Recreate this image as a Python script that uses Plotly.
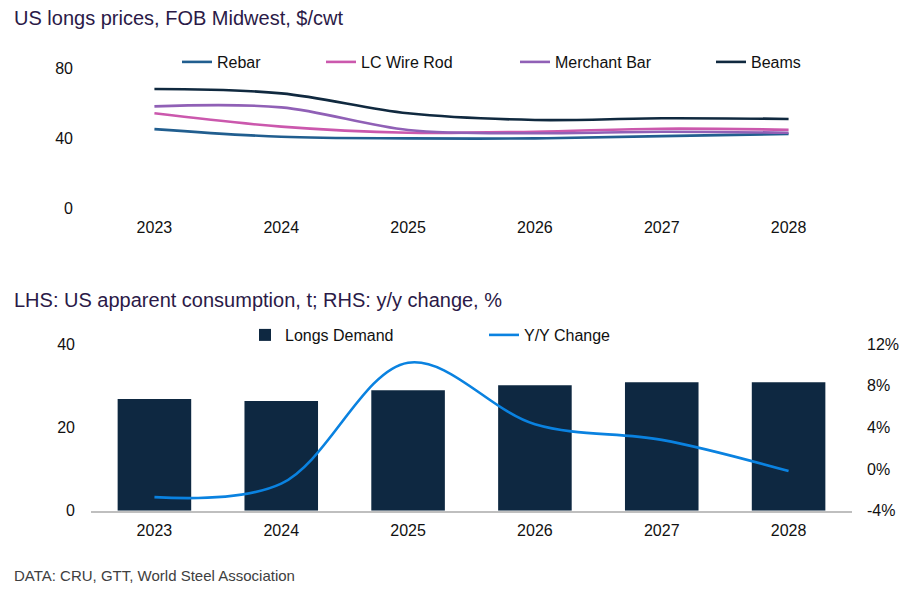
import plotly.graph_objects as go

# ---- data ----
years = ["2023", "2024", "2025", "2026", "2027", "2028"]

rebar = [45.1, 40.7, 39.8, 39.8, 41.1, 42.3]
lc_wire_rod = [54.1, 46.5, 43.0, 43.6, 45.3, 44.7]
merchant_bar = [58.1, 57.5, 44.6, 42.7, 43.6, 43.0]
beams = [68.0, 65.5, 54.1, 50.3, 51.3, 50.9]

longs_demand = [26.8, 26.3, 28.9, 30.1, 30.8, 30.8]
yy_change = [-2.7, -1.4, 10.2, 4.3, 2.8, -0.2]

top_yticks = [0, 40, 80]
bot_yticks = [0, 20, 40]
rhs_tickvals = [-4, 0, 4, 8, 12]
rhs_ticktext = ["-4%", "0%", "4%", "8%", "12%"]

title_top = "US longs prices, FOB Midwest, $/cwt"
title_bot = "LHS: US apparent consumption, t; RHS: y/y change, %"
source_txt = "DATA: CRU, GTT, World Steel Association"

# ---- style ----
OFF = 8  # page body margin in the browser
W, H = 917 - OFF, 592 - OFF
FONT = "Liberation Sans, Arial, sans-serif"
TXT = "#111111"
TITLE_C = "#2b1a47"
c_rebar = "#215e8f"
c_lc = "#cb58ad"
c_mb = "#9060b6"
c_beams = "#10293f"
c_bar = "#0e2841"
c_yy = "#0a82e0"

PLOT_L, PLOT_R = 91, 852  # screen px
L = PLOT_L - OFF
R = W - (PLOT_R - OFF)


def py(px):
    return 1 - (px - OFF) / H


def cx(px):
    return (px - OFF) / W


def ax(px):
    return (px - PLOT_L) / (PLOT_R - PLOT_L)


fig = go.Figure()

series = [
    ("Rebar", rebar, c_rebar, "legend", 177),
    ("LC Wire Rod", lc_wire_rod, c_lc, "legend2", 321),
    ("Merchant Bar", merchant_bar, c_mb, "legend3", 515),
    ("Beams", beams, c_beams, "legend4", 711),
]
for name, vals, col, lg, _ in series:
    fig.add_trace(go.Scatter(
        x=years, y=vals, name=name, mode="lines",
        line=dict(color=col, width=2.6, shape="spline", smoothing=1.0),
        xaxis="x", yaxis="y", legend=lg,
    ))

fig.add_trace(go.Bar(
    x=years, y=longs_demand, name="Longs Demand", marker=dict(color=c_bar, line=dict(width=0)),
    width=0.58, xaxis="x2", yaxis="y2", legend="legend5",
))
fig.add_trace(go.Scatter(
    x=years, y=yy_change, name="Y/Y Change", mode="lines",
    line=dict(color=c_yy, width=2.6, shape="spline", smoothing=1.0),
    xaxis="x2", yaxis="y3", legend="legend6",
))

legend_common = dict(
    orientation="h", xref="container", yref="container",
    xanchor="left", yanchor="middle", bgcolor="rgba(0,0,0,0)",
    font=dict(family=FONT, size=16, color=TXT), borderwidth=0,
    itemwidth=30,
)
layout_legends = {}
for name, vals, col, lg, xpx in series:
    layout_legends[lg] = dict(legend_common, x=cx(xpx), y=py(62))
layout_legends["legend5"] = dict(legend_common, x=cx(245), y=py(335))
layout_legends["legend6"] = dict(legend_common, x=cx(484), y=py(335))

axis_font = dict(family=FONT, size=16, color=TXT)

fig.update_layout(
    template="none",
    width=W, height=H,
    margin=dict(l=L, r=R, t=0, b=0, autoexpand=False),
    paper_bgcolor="white", plot_bgcolor="white",
    font=dict(family=FONT, size=16, color=TXT),
    showlegend=True,
    xaxis=dict(
        domain=[0, 1], anchor="y", type="category", range=[-0.5, 5.5],
        showgrid=False, showline=False, zeroline=False, ticks="",
        tickfont=axis_font, ticklabelstandoff=8, automargin=False,
    ),
    yaxis=dict(
        domain=[py(208), py(68)], anchor="x", range=[0, 80],
        tickvals=top_yticks, showgrid=False, showline=False, zeroline=False,
        ticks="", tickfont=axis_font, ticklabelstandoff=17, automargin=False,
    ),
    xaxis2=dict(
        domain=[0, 1], anchor="y2", type="category", range=[-0.5, 5.5],
        showgrid=False, showline=True, linecolor="#bfbfbf", linewidth=1.5,
        zeroline=False, ticks="", tickfont=axis_font, ticklabelstandoff=4,
        automargin=False,
    ),
    yaxis2=dict(
        domain=[py(510.7), py(344)], anchor="x2", range=[0, 40],
        tickvals=bot_yticks, showgrid=False, showline=False, zeroline=False,
        ticks="", tickfont=axis_font, ticklabelstandoff=15, automargin=False,
    ),
    yaxis3=dict(
        overlaying="y2", side="right", anchor="x2", range=[-4, 12],
        tickvals=rhs_tickvals, ticktext=rhs_ticktext, showgrid=False,
        showline=False, zeroline=False, ticks="", tickfont=axis_font,
        ticklabelstandoff=14, automargin=False,
    ),
    annotations=[
        dict(text=title_top, xref="paper", yref="paper",
             x=ax(12), y=py(18), xanchor="left", yanchor="middle",
             showarrow=False, font=dict(family=FONT, size=20, color=TITLE_C)),
        dict(text=title_bot, xref="paper", yref="paper",
             x=ax(12), y=py(300), xanchor="left", yanchor="middle",
             showarrow=False, font=dict(family=FONT, size=20, color=TITLE_C)),
        dict(text=source_txt, xref="paper", yref="paper",
             x=ax(12), y=py(575), xanchor="left", yanchor="middle",
             showarrow=False, font=dict(family=FONT, size=15, color="#404040")),
    ],
    **layout_legends,
)

fig.write_html("out.html")
